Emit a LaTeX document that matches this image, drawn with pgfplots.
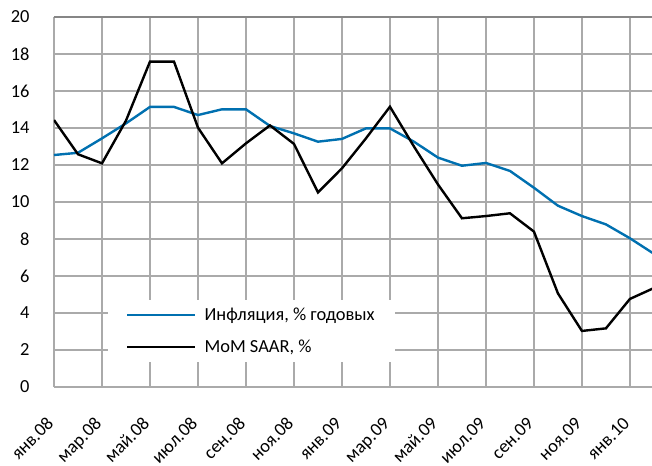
\documentclass[border=0pt]{standalone}
\usepackage{fontspec}
\setmainfont{Carlito}
\usepackage{pgfplots}
\pgfplotsset{compat=1.18}
\definecolor{infl}{RGB}{0,112,176}
\definecolor{gridc}{RGB}{170,170,170}
\definecolor{topc}{RGB}{134,134,134}
\begin{document}
\begin{tikzpicture}
\begin{axis}[name=ax, width=598bp, height=370bp, scale only axis,
 xmin=0, xmax=24.92, ymin=0, ymax=20,
 ytick={0,2,...,20}, xtick={0,2,...,24},
 xticklabels={янв.08,мар.08,май.08,июл.08,сен.08,ноя.08,янв.09,мар.09,май.09,июл.09,сен.09,ноя.09,янв.10},
 axis line style={draw=none}, major tick length=0,
 grid=major, major grid style={gridc, line width=2bp},
 extra y ticks={20}, extra y tick labels={},
 extra y tick style={major grid style={topc, line width=2.2bp}},
 tick label style={font=\fontsize{18.5}{22}\selectfont},
 /pgf/number format/assume math mode=true,
 yticklabel style={xshift=-21bp},
 xticklabel style={xshift=-4bp, yshift=-33bp, rotate=45, anchor=north east,
   inner sep=0pt, text height=0.63em, text depth=0.2em},
 legend style={at={(0.0903,0.0676)}, anchor=south west, draw=none, fill=white,
   font=\fontsize{18.5}{22}\selectfont, inner xsep=18bp, inner ysep=6bp, row sep=14bp},
 legend cell align=left,
 legend image code/.code={\draw[#1] (0bp,0bp) -- (68bp,0bp); \path (0bp,0bp) (74bp,0bp);},
 clip=true]
\addplot[infl, line width=2.4bp] coordinates {
(0,12.54)(1,12.66)(2,13.44)(3,14.25)(4,15.14)(5,15.14)(6,14.70)(7,15.01)(8,15.01)(9,14.11)
(10,13.71)(11,13.26)(12,13.41)(13,13.98)(14,13.98)(15,13.26)(16,12.40)(17,11.96)(18,12.11)
(19,11.68)(20,10.77)(21,9.80)(22,9.24)(23,8.79)(24,8.04)(25,7.2)};
\addlegendentry{Инфляция, \% годовых}
\addplot[black, line width=2.4bp] coordinates {
(0,14.43)(1,12.58)(2,12.09)(3,14.4)(4,17.59)(5,17.59)(6,14.02)(7,12.09)(8,13.17)(9,14.14)
(10,13.14)(11,10.52)(12,11.82)(13,13.44)(14,15.15)(15,13.0)(16,10.95)(17,9.12)(18,9.24)
(19,9.39)(20,8.4)(21,5.06)(22,3.03)(23,3.17)(24,4.76)(25,5.35)};
\addlegendentry{MoM SAAR, \%}
\end{axis}
\pgfresetboundingbox
\path[use as bounding box] ([shift={(-54bp,-79bp)}]ax.south west) rectangle ([shift={(0bp,17bp)}]ax.north east);
\end{tikzpicture}
\end{document}
